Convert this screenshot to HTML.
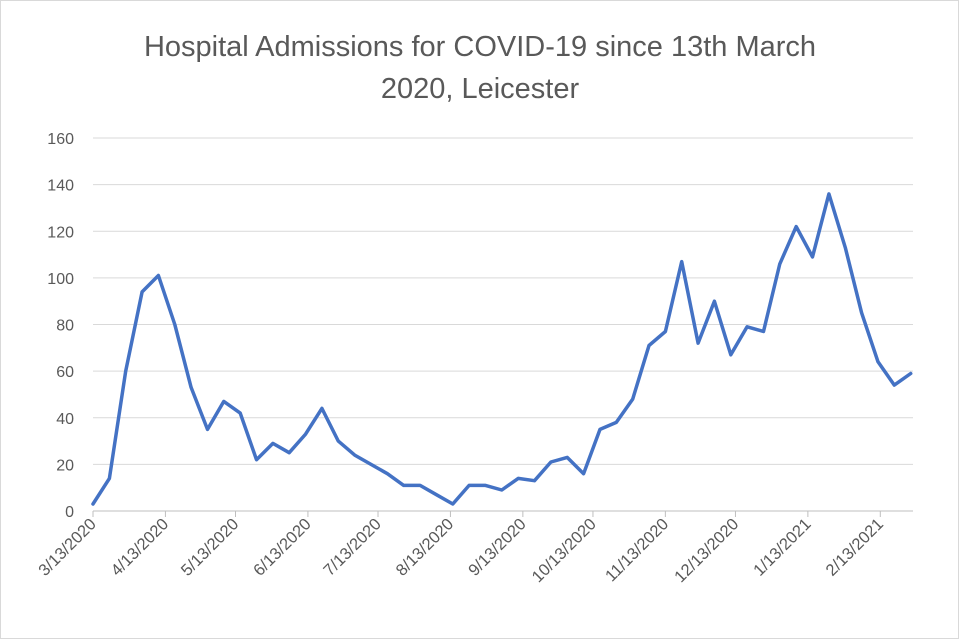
<!DOCTYPE html>
<html><head><meta charset="utf-8"><style>
html,body{margin:0;padding:0;background:#fff}
svg{display:block}
text{font-family:"Liberation Sans",sans-serif;fill:#595959}
</style></head><body>
<svg id="chart" width="960" height="640">
<rect x="0.5" y="0.5" width="958" height="638" fill="#fff" stroke="#d9d9d9"/>
<text x="480" y="56" text-anchor="middle" font-size="29">Hospital Admissions for COVID-19 since 13th March</text>
<text x="480" y="98" text-anchor="middle" font-size="29">2020, Leicester</text>
<g id="grid"></g><g id="yl"></g><g id="xl"></g><g id="series"></g>
</svg>
<script>
const values=[3,14,60,94,101,80,53,35,47,42,22,29,25,33,44,30,24,20,16,11,11,7,3,11,11,9,14,13,21,23,16,35,38,48,71,77,107,72,90,67,79,77,106,122,109,136,113,85,64,54,59];
const yTicks=[0,20,40,60,80,100,120,140,160];
const xTickLabels=["3/13/2020","4/13/2020","5/13/2020","6/13/2020","7/13/2020","8/13/2020","9/13/2020","10/13/2020","11/13/2020","12/13/2020","1/13/2021","2/13/2021"];
const xTickDays=[0,31,61,92,122,153,184,214,245,275,306,337];
const NS="http://www.w3.org/2000/svg";
const x0=93,x1=913,y0=511,y1=138,dMax=351,vMax=160;
const X=d=>x0+(x1-x0)*d/dMax, Y=v=>y0-(y0-y1)*v/vMax;
function mk(t,a,p){const e=document.createElementNS(NS,t);for(const k in a)e.setAttribute(k,a[k]);p.appendChild(e);return e;}
const g=document.getElementById('grid'),yl=document.getElementById('yl'),xl=document.getElementById('xl'),s=document.getElementById('series');
yTicks.forEach(v=>{
 const l=mk('line',{x1:x0,x2:x1,y1:Y(v),y2:Y(v),stroke:v===0?'#bfbfbf':'#d9d9d9','stroke-width':1},g);
 
 
 const t=mk('text',{x:74,y:Y(v)+6,'text-anchor':'end','font-size':16},yl);t.textContent=v;
 
 
});
xTickDays.forEach((d,i)=>{
 const tk=mk('line',{x1:X(d),x2:X(d),y1:y0,y2:y0+6,stroke:'#bfbfbf'},xl);
 
 
 const t=mk('text',{x:X(d)+4,y:y0+14,'text-anchor':'end','font-size':16.5,transform:`rotate(-45 ${X(d)+4} ${y0+14})`},xl);
 t.textContent=xTickLabels[i];
 
 
});
const pts=values.map((v,i)=>X(i*7).toFixed(1)+','+Y(v).toFixed(1)).join(' ');
const pl=mk('polyline',{points:pts,fill:'none',stroke:'#4472c4','stroke-width':3.5,'stroke-linejoin':'round','stroke-linecap':'round'},s);


</script>
</body></html>
